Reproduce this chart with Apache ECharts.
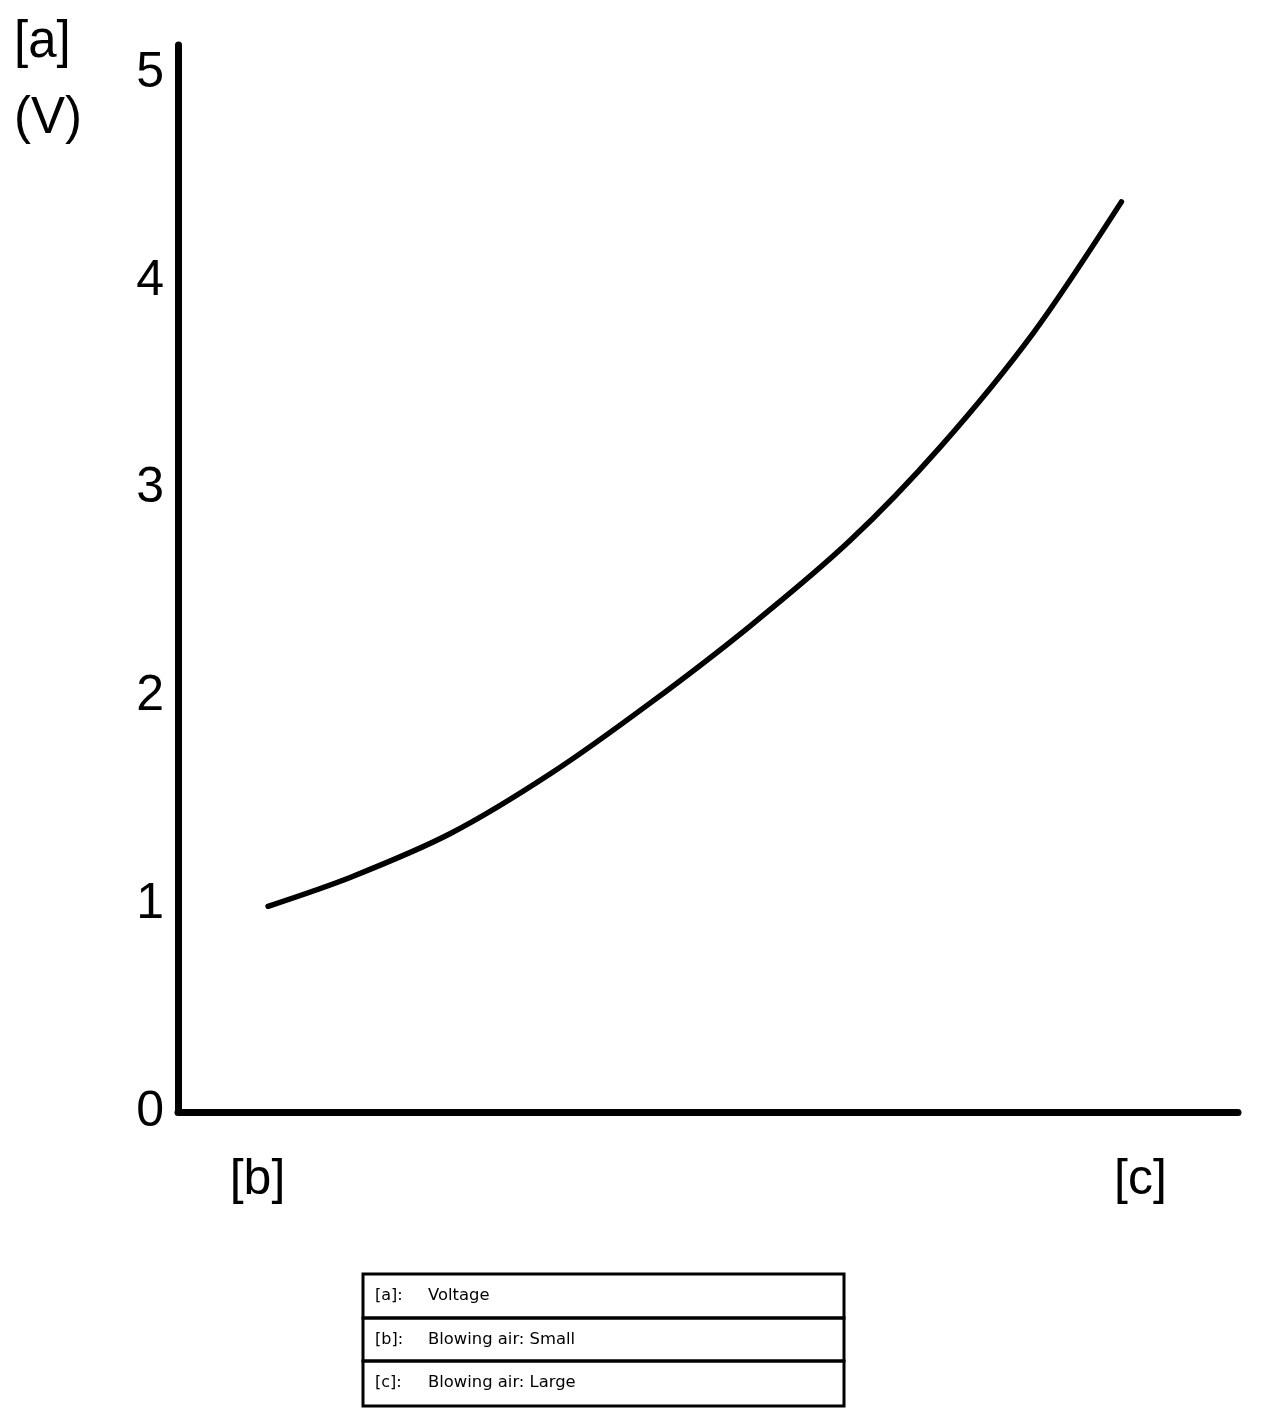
<!DOCTYPE html>
<html>
<head>
<meta charset="utf-8">
<script src="https://cdn.jsdelivr.net/npm/echarts@6/dist/echarts.min.js"></script>
<style>
  html, body { margin: 0; padding: 0; background: #fff; }
  #chart { width: 1264px; height: 1420px; }
</style>
</head>
<body>
<div id="chart"></div>
<script>
// Blowing-air position (0..100 across the x axis) and voltage (V)
const airLevel = [8.5, 16.3, 25.7, 35.2, 44.6, 54.0, 63.4, 71.9, 80.7, 89.0];
const voltage  = [0.99, 1.13, 1.34, 1.63, 1.97, 2.34, 2.75, 3.20, 3.75, 4.38];
const yTicks = [0, 1, 2, 3, 4, 5];
const xTickPos = [7.5, 90.8];
const xTickLabels = ['[b]', '[c]'];
const yTitle = ['[a]', '(V)'];
const legendKeys = ['[a]:', '[b]:', '[c]:'];
const legendTexts = ['Voltage', 'Blowing air: Small', 'Blowing air: Large'];

const chart = echarts.init(document.getElementById('chart'), null, { renderer: 'canvas' });

const tableLeft = 363, tableRight = 844, rowTops = [1274, 1318, 1361], rowH = 44;
const graphics = [];
yTitle.forEach((t, i) => {
  graphics.push({
    type: 'text', left: 14, top: [17, 93][i],
    style: { text: t, font: '51px "Liberation Sans", Arial, sans-serif', fill: '#000' }
  });
});
rowTops.forEach((top, i) => {
  graphics.push({
    type: 'rect', shape: { x: tableLeft, y: top, width: tableRight - tableLeft, height: (i === 2 ? 1406 : rowTops[i + 1]) - top },
    style: { fill: 'none', stroke: '#000', lineWidth: 3 }
  });
  graphics.push({
    type: 'text', x: 375, y: top + rowH / 2,
    style: { text: legendKeys[i], font: '16px "DejaVu Sans", sans-serif', fill: '#000', verticalAlign: 'middle' }
  });
  graphics.push({
    type: 'text', x: 428, y: top + rowH / 2,
    style: { text: legendTexts[i], font: '16.4px "DejaVu Sans", sans-serif', fill: '#000', verticalAlign: 'middle' }
  });
});

chart.setOption({
  animation: false,
  backgroundColor: '#fff',
  grid: { left: 178, right: 26, top: 45, bottom: 308, containLabel: false },
  xAxis: {
    type: 'value', min: 0, max: 100,
    axisLine: { show: true, lineStyle: { color: '#000', width: 7, cap: 'round' } },
    axisTick: { show: false },
    splitLine: { show: false },
    axisLabel: {
      customValues: xTickPos,
      formatter: (v) => { const i = xTickPos.indexOf(v); return i >= 0 ? xTickLabels[i] : ''; },
      color: '#000', fontSize: 50, fontFamily: '"Liberation Sans", Arial, sans-serif', margin: 43
    }
  },
  yAxis: {
    type: 'value', min: 0, max: 5.135, interval: 1,
    axisLine: { show: true, lineStyle: { color: '#000', width: 7, cap: 'round' } },
    axisTick: { show: false },
    splitLine: { show: false },
    axisLabel: {
      customValues: yTicks,
      formatter: (v) => (yTicks.indexOf(v) >= 0 ? String(v) : ''),
      color: '#000', fontSize: 50, fontFamily: '"Liberation Sans", Arial, sans-serif', margin: 14
    }
  },
  series: [{
    type: 'line',
    data: airLevel.map((x, i) => [x, voltage[i]]),
    smooth: 0.3,
    showSymbol: false,
    lineStyle: { color: '#000', width: 5.5, cap: 'round' }
  }],
  graphic: graphics
});
</script>
</body>
</html>
